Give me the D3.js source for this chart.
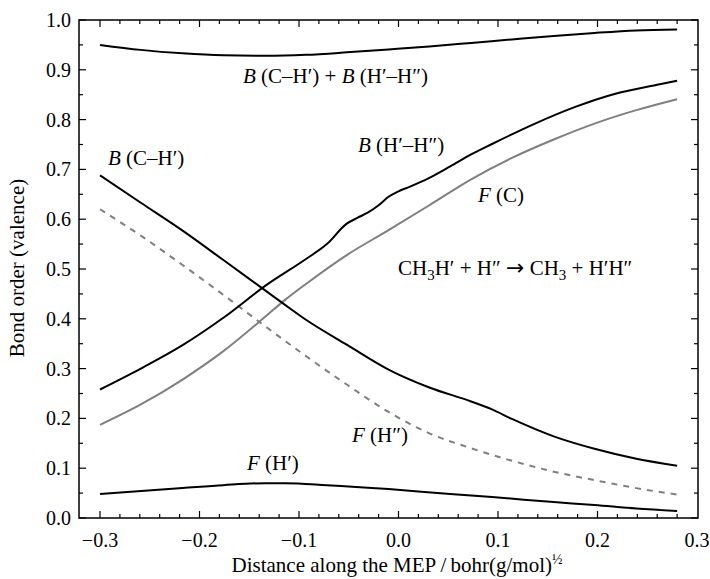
<!DOCTYPE html>
<html><head><meta charset="utf-8">
<script src="https://cdn.jsdelivr.net/npm/d3@7"></script>
<style>body{margin:0;background:#fff}svg{display:block}text{font-family:"Liberation Serif","DejaVu Serif",serif;fill:#000}</style>
</head><body><svg id="c" width="710" height="579"></svg>
<script>
// x positions along the MEP
const sumX = [-0.300,-0.259,-0.217,-0.176,-0.134,-0.093,-0.052,-0.010,0.031,0.073,0.114,0.156,0.197,0.239,0.280];
const sumY = [0.950,0.940,0.933,0.929,0.928,0.930,0.935,0.941,0.947,0.954,0.961,0.968,0.974,0.979,0.981];
const bchX = [-0.300,-0.259,-0.217,-0.176,-0.134,-0.114,-0.093,-0.052,-0.010,0.031,0.073,0.094,0.114,0.156,0.197,0.239,0.280];
const bchY = [0.688,0.633,0.577,0.518,0.457,0.428,0.398,0.348,0.298,0.262,0.234,0.218,0.199,0.164,0.139,0.119,0.105];
const bhhX = [-0.300,-0.259,-0.217,-0.176,-0.134,-0.093,-0.072,-0.052,-0.041,-0.031,-0.020,-0.010,0.000,0.011,0.031,0.052,0.073,0.094,0.135,0.177,0.218,0.260,0.280];
const bhhY = [0.258,0.300,0.347,0.402,0.466,0.520,0.550,0.591,0.603,0.613,0.628,0.645,0.656,0.665,0.683,0.706,0.730,0.751,0.790,0.825,0.852,0.870,0.878];
const fcX  = [-0.300,-0.259,-0.217,-0.176,-0.134,-0.114,-0.093,-0.052,-0.010,0.031,0.073,0.114,0.156,0.197,0.239,0.280];
const fcY  = [0.187,0.228,0.278,0.335,0.404,0.438,0.470,0.528,0.578,0.628,0.680,0.723,0.760,0.792,0.819,0.841];
const fh2X = [-0.300,-0.259,-0.217,-0.176,-0.134,-0.093,-0.052,-0.010,0.031,0.073,0.114,0.156,0.197,0.239,0.280];
const fh2Y = [0.620,0.567,0.508,0.448,0.385,0.325,0.268,0.213,0.170,0.140,0.115,0.093,0.076,0.060,0.047];
const fh1X = [-0.300,-0.217,-0.176,-0.134,-0.114,-0.072,-0.010,0.052,0.094,0.156,0.197,0.239,0.280];
const fh1Y = [0.048,0.060,0.066,0.070,0.070,0.066,0.058,0.048,0.042,0.032,0.026,0.019,0.014];
const xTickValues = [-0.3,-0.2,-0.1,0.0,0.1,0.2,0.3];
const xTickLabels = ["\u22120.3","\u22120.2","\u22120.1","0.0","0.1","0.2","0.3"];
const yTickValues = [0,0.1,0.2,0.3,0.4,0.5,0.6,0.7,0.8,0.9,1.0];
const yTickLabels = ["0.0","0.1","0.2","0.3","0.4","0.5","0.6","0.7","0.8","0.9","1.0"];

const svg = d3.select("#c");
const x = d3.scaleLinear().domain([-0.3,0.3]).range([100,697]);
const y = d3.scaleLinear().domain([0,1]).range([518,20]);
const FL = 79, FR = 698;   // frame edges (px)
const FS = 20, FA = 21;

// ticks
const xMinor = d3.range(31).map(i => -0.3 + i*0.02).filter(v => x(v) > FL+1 && x(v) < FR-1);
const yMinor = d3.range(21).map(i => i*0.05);
const isMaj = v => Math.abs(Math.round(v*10) - v*10) < 1e-6;
const tg = svg.append("g").attr("stroke","#000").attr("stroke-width",1.2);
xMinor.forEach(v => {
  const L = isMaj(v)?7:4;
  tg.append("line").attr("x1",x(v)).attr("x2",x(v)).attr("y1",y(0)).attr("y2",y(0)-L);
  tg.append("line").attr("x1",x(v)).attr("x2",x(v)).attr("y1",y(1)).attr("y2",y(1)+L);
});
yMinor.forEach(v => {
  const L = isMaj(v)?7:4;
  tg.append("line").attr("y1",y(v)).attr("y2",y(v)).attr("x1",FL).attr("x2",FL+L);
  tg.append("line").attr("y1",y(v)).attr("y2",y(v)).attr("x1",FR).attr("x2",FR-L);
});
svg.append("rect").attr("x",FL).attr("y",y(1)).attr("width",FR-FL).attr("height",y(0)-y(1))
  .attr("fill","none").attr("stroke","#000").attr("stroke-width",1.5);

// tick labels
xTickValues.forEach((v,i) => svg.append("text").attr("x",x(v)).attr("y",547).attr("text-anchor","middle")
  .attr("font-size",FS).text(xTickLabels[i]));
yTickValues.forEach((v,i) => svg.append("text").attr("x",71).attr("y",y(v)).attr("dy","0.35em").attr("text-anchor","end")
  .attr("font-size",FS).text(yTickLabels[i]));

// axis titles
const xt = svg.append("text").attr("x",397).attr("y",572).attr("text-anchor","middle").attr("font-size",FA);
xt.append("tspan").text("Distance along the MEP\u2009/\u2009bohr(g/mol)");
xt.append("tspan").attr("font-size",14).attr("dy",-8).text("\u00BD");
svg.append("text").attr("transform","translate(24,268) rotate(-90)").attr("text-anchor","middle")
  .attr("font-size",FA).text("Bond order (valence)");

// curves
const line = d3.line().x(d=>x(d[0])).y(d=>y(d[1])).curve(d3.curveMonotoneX);
const zip = (a,b) => a.map((v,i)=>[v,b[i]]);
const plot = (xs,ys,col,dash) => svg.append("path").datum(zip(xs,ys)).attr("d",line)
  .attr("fill","none").attr("stroke",col).attr("stroke-width",2).attr("stroke-dasharray",dash||null);
plot(fh2X,fh2Y,"#7f7f7f","6,6");
plot(fcX,fcY,"#7f7f7f");
plot(sumX,sumY,"#000");
plot(bchX,bchY,"#000");
plot(bhhX,bhhY,"#000");
plot(fh1X,fh1Y,"#000");

// annotations
function lab(xp, yp, parts){
  const t = svg.append("text").attr("x",xp).attr("y",yp).attr("font-size",FA);
  parts.forEach(p => {
    const s = t.append("tspan").text(p.t);
    if (p.i) s.attr("font-style","italic");
    if (p.sub) s.attr("font-size",15).attr("dy",5);
    if (p.up) s.attr("dy",-5);
    if (p.arrow) s.attr("font-family","DejaVu Sans").attr("font-size",22);
  });
}
lab(243,83,[{t:"B",i:1},{t:" (C\u2013H\u2032) + "},{t:"B",i:1},{t:" (H\u2032\u2013H\u2033)"}]);
lab(108,165,[{t:"B",i:1},{t:" (C\u2013H\u2032)"}]);
lab(358,152,[{t:"B",i:1},{t:" (H\u2032\u2013H\u2033)"}]);
lab(478,202,[{t:"F",i:1},{t:" (C)"}]);
lab(352,442,[{t:"F",i:1},{t:" (H\u2033)"}]);
lab(247,470,[{t:"F",i:1},{t:" (H\u2032)"}]);
lab(398,275,[{t:"CH"},{t:"3",sub:1},{t:"H\u2032 + H\u2033 ",up:1},{t:"\u2192",arrow:1},{t:" CH"},{t:"3",sub:1},{t:" + H\u2032H\u2033",up:1}]);
</script></body></html>
